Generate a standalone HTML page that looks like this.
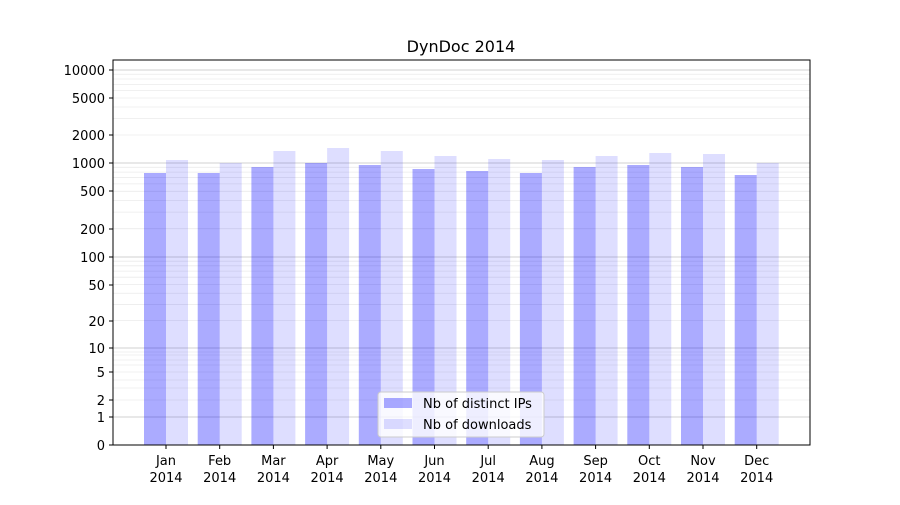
<!DOCTYPE html>
<html><head><meta charset="utf-8"><style>
html,body{margin:0;padding:0;background:#fff;}
svg text{font-family:"DejaVu Sans","Liberation Sans",sans-serif;fill:#000;}
</style></head><body>
<svg width="900" height="500" xmlns="http://www.w3.org/2000/svg">
<rect width="900" height="500" fill="#fff"/>
<g id="minor" stroke="#ebebeb" stroke-width="0.8">
</g>
<g stroke="#c0c0c0" stroke-width="0.8">
<line x1="113" x2="810" y1="417" y2="417"/>
<line x1="113" x2="810" y1="348" y2="348"/>
<line x1="113" x2="810" y1="257" y2="257"/>
<line x1="113" x2="810" y1="163" y2="163"/>
<line x1="113" x2="810" y1="70" y2="70"/>
</g>
<g id="bars"></g>
<rect x="113" y="60" width="697" height="385" fill="none" stroke="#000" stroke-width="1"/>
<text x="461" y="52" font-size="16" text-anchor="middle">DynDoc 2014</text>
<g id="yt" font-size="13" text-anchor="end"></g>
<g id="xt" font-size="13" text-anchor="middle"></g>
<g>
<rect x="378" y="392" width="166" height="45" rx="3" fill="#fff" fill-opacity="0.8" stroke="#ccc"/>
<rect x="384" y="398" width="28" height="10" fill="#0000ff" fill-opacity="0.33"/>
<text x="423" y="408" font-size="13">Nb of distinct IPs</text>
<rect x="384" y="419" width="28" height="10" fill="#0000ff" fill-opacity="0.13"/>
<text x="423" y="429" font-size="13">Nb of downloads</text>
</g>
<script>
var ns="http://www.w3.org/2000/svg";
function el(p,t,a,txt){var e=document.createElementNS(ns,t);for(var k in a)e.setAttribute(k,a[k]);if(txt)e.textContent=txt;document.getElementById(p).appendChild(e);}
var dec=[[10,348],[100,257],[1000,163],[10000,70]];
for(var i=0;i<3;i++){var a=dec[i],b=dec[i+1];for(var m=2;m<10;m++){var y=a[1]+(b[1]-a[1])*Math.log10(m);el("minor","line",{x1:113,x2:810,y1:y,y2:y});}}
for(var m=2;m<10;m++){var yy=70-93*Math.log10(m);if(yy>60)el("minor","line",{x1:113,x2:810,y1:yy,y2:yy});}
[[400],[372],[388],[380],[365],[360],[355],[352]].forEach(function(v){el("minor","line",{x1:113,x2:810,y1:v[0],y2:v[0]});});
var yl=[["0",445],["1",417],["2",400],["5",372],["10",348],["20",321],["50",285],["100",257],["200",229],["500",191],["1000",163],["2000",135],["5000",98],["10000",70]];
yl.forEach(function(t){el("yt","line",{x1:109,x2:113,y1:t[1],y2:t[1],stroke:"#000"});el("yt","text",{x:105,y:t[1]+5},t[0]);});
var mon=["Jan","Feb","Mar","Apr","May","Jun","Jul","Aug","Sep","Oct","Nov","Dec"];
var ip=[173,173,167,163,165,169,171,173,167,165,167,175];
var dl=[160,163,151,148,151,156,159,160,156,153,154,163];
for(var i=0;i<12;i++){var c=166+i*53.7;
el("bars","rect",{x:c-22,y:ip[i],width:22,height:445-ip[i],fill:"#0000ff","fill-opacity":0.33});
el("bars","rect",{x:c,y:dl[i],width:22,height:445-dl[i],fill:"#0000ff","fill-opacity":0.13});
el("xt","line",{x1:c,x2:c,y1:445,y2:449,stroke:"#000"});
el("xt","text",{x:c,y:465},mon[i]);el("xt","text",{x:c,y:482},"2014");}
</script>
</svg>
</body></html>
